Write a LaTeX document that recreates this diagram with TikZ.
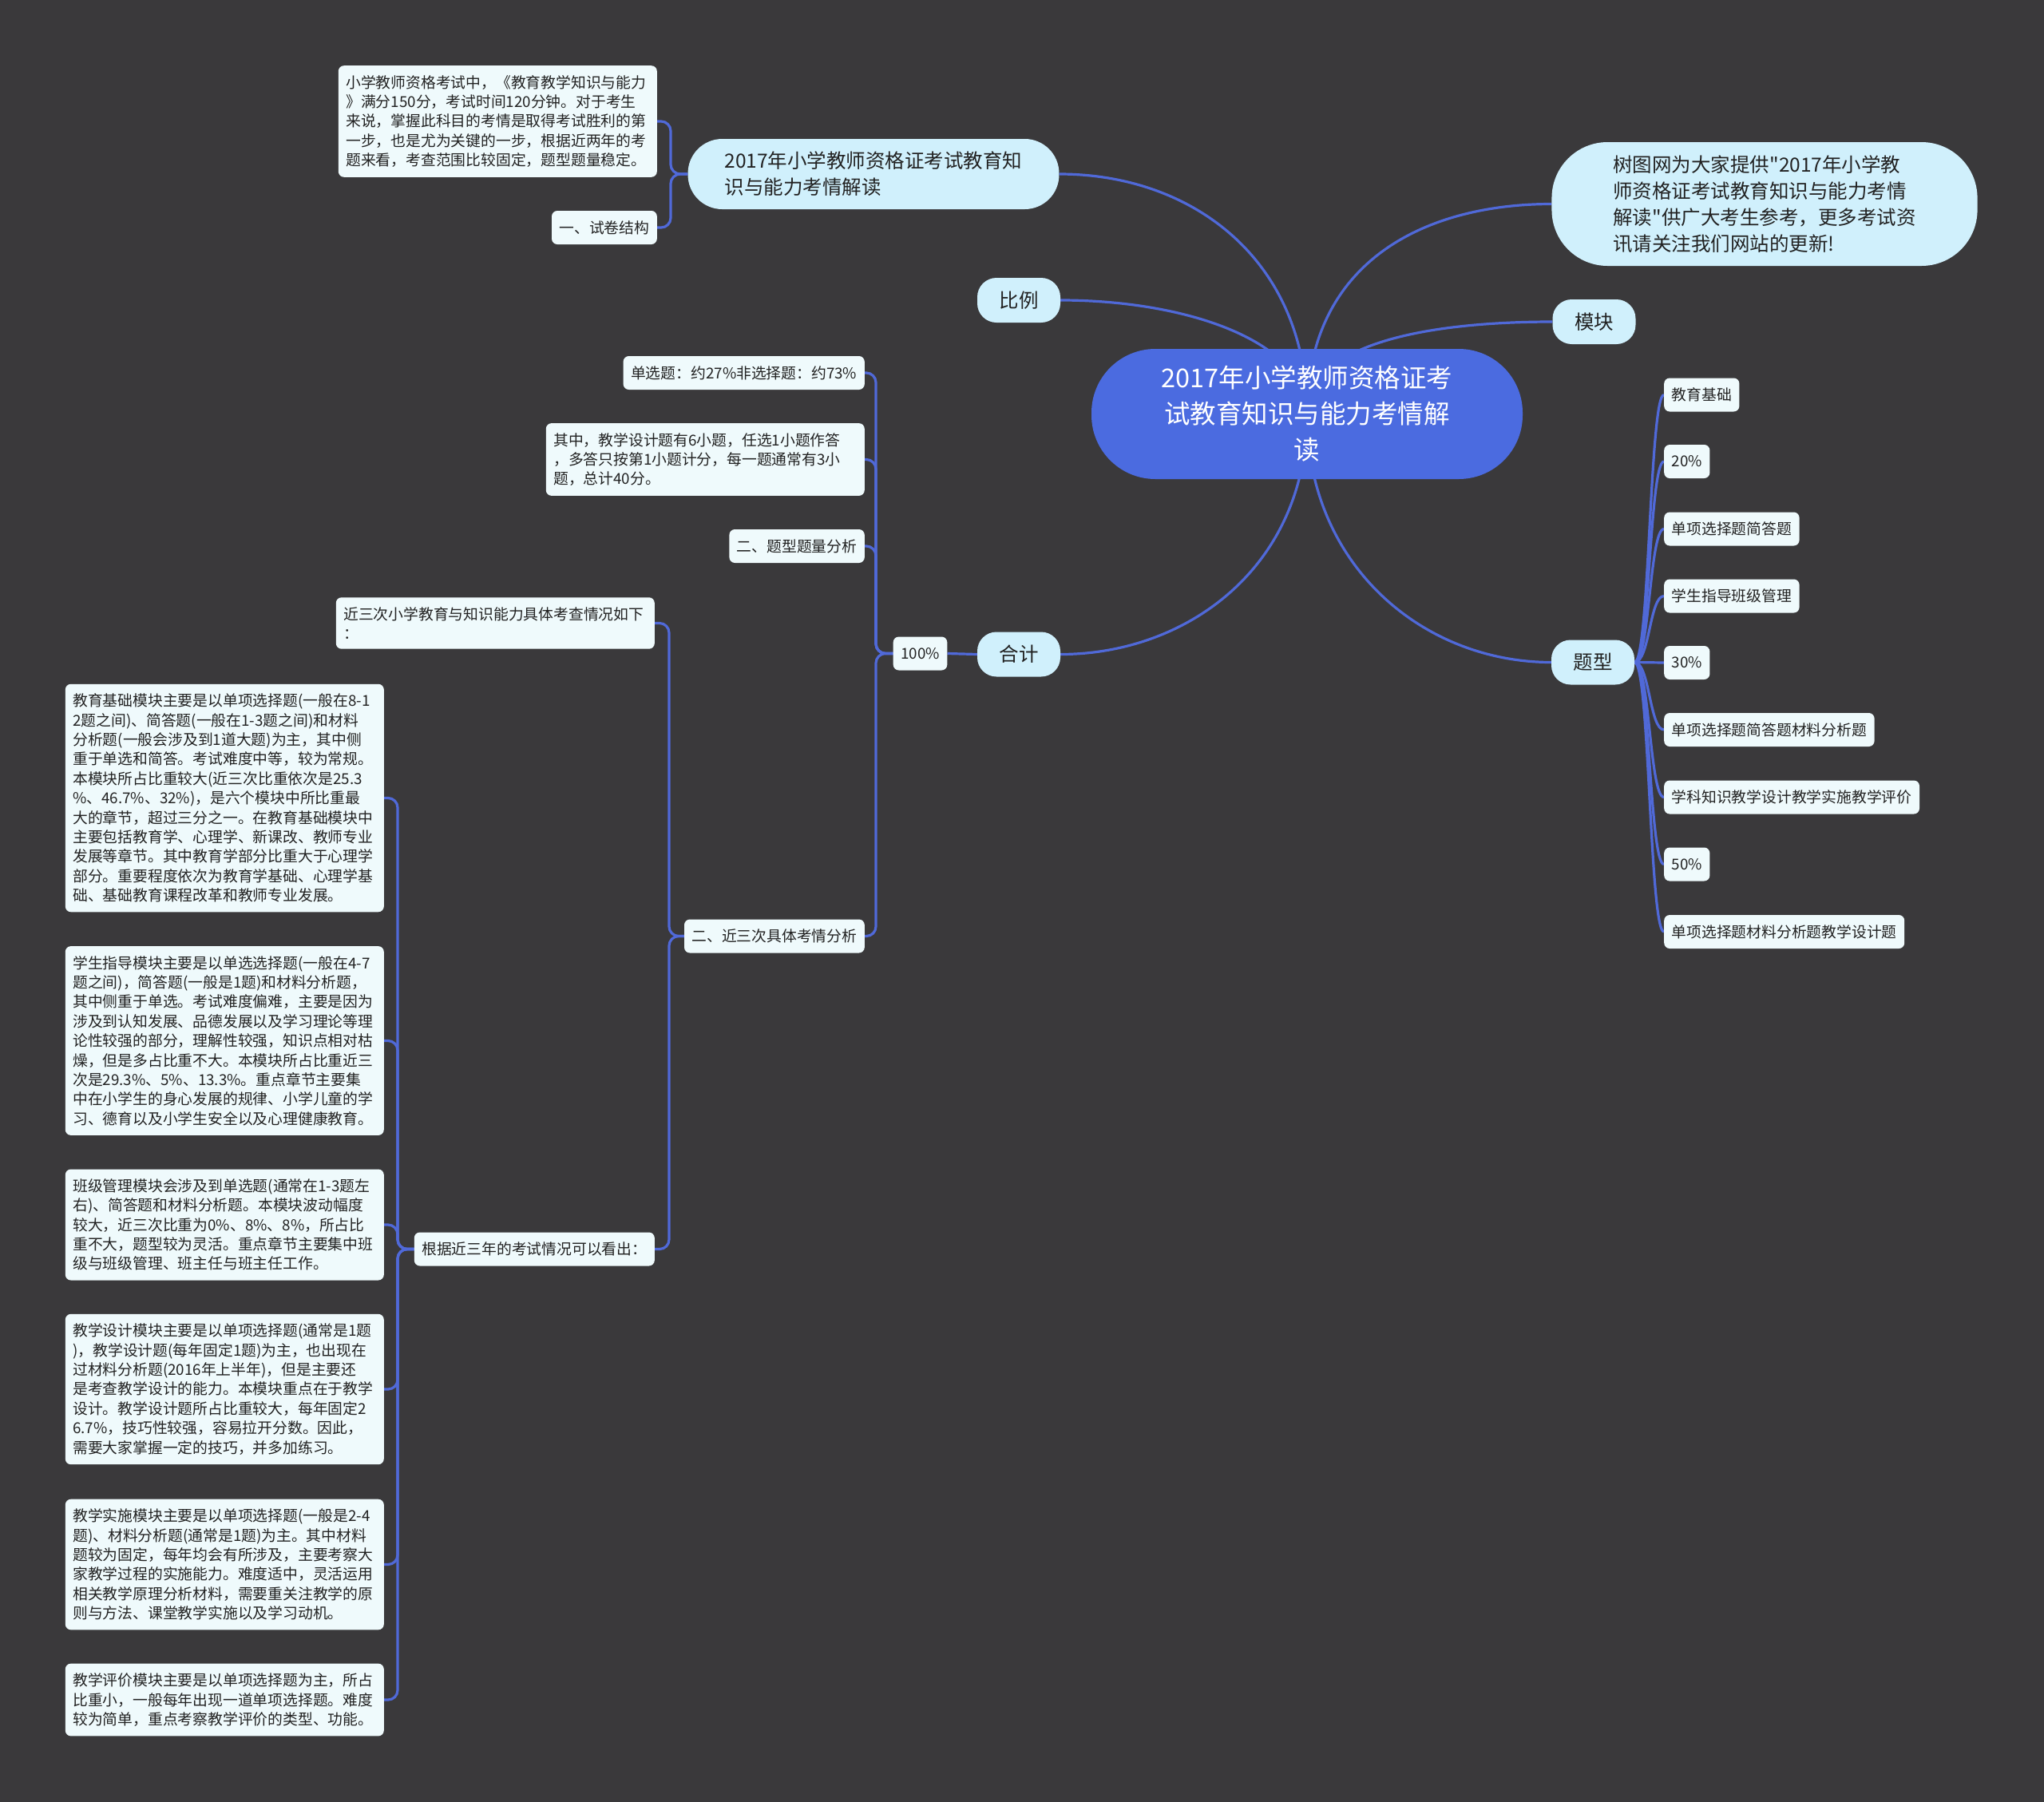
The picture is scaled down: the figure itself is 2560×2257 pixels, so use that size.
\documentclass[tikz,border=0pt]{standalone}
\usepackage{fontspec}
\setmainfont{Noto Sans CJK SC}[Ligatures=TeXOff]
\usetikzlibrary{calc}
\definecolor{bgc}{HTML}{3A393B}
\definecolor{rootc}{HTML}{4B6BE0}
\definecolor{linec}{HTML}{5069D8}
\definecolor{pillc}{HTML}{D0F0FC}
\definecolor{boxc}{HTML}{EFFAFC}
\definecolor{txtc}{HTML}{222222}
\pgfdeclarelayer{bglayer}
\pgfdeclarelayer{linelayer}
\pgfsetlayers{bglayer,linelayer,main}
\tikzset{
  conn/.style={draw=linec, line width=3.2pt},
  brk/.style={conn, rounded corners=12pt},
  tbox/.style={fill=boxc, text=txtc, rounded corners=7pt, inner xsep=9.5pt, inner ysep=12pt, font=\fontsize{18.8pt}{24.4pt}\selectfont, align=left},
  sbox/.style={tbox, inner ysep=0pt, minimum height=42pt},
  wbox/.style={tbox, text width=380pt},
  pill/.style={fill=pillc, text=txtc, font=\fontsize{24.5pt}{33pt}\selectfont},
  small/.style={pill, minimum width=104pt, minimum height=56pt, rounded corners=24pt, inner sep=0pt},
}
\begin{document}
\begin{tikzpicture}[x=1pt,y=-1pt]
\useasboundingbox (0,0) rectangle (2560,2257);
\begin{pgfonlayer}{bglayer}
\fill[bgc] (0,0) rectangle (2560,2257);
\end{pgfonlayer}

% root and main branches
\node[fill=rootc, text=white, rounded corners=80pt, minimum width=540pt, minimum height=163pt, align=center, font=\fontsize{32.5pt}{45pt}\selectfont, inner sep=0pt] (root) at (1637,518.5) {2017年小学教师资格证考\\试教育知识与能力考情解\\读};
\node[pill, rounded corners=43pt, minimum height=88pt, inner xsep=46pt, align=left] (tl) at (1094,218) {2017年小学教师资格证考试教育知\\识与能力考情解读};
\node[pill, rounded corners=70pt, minimum height=155pt, inner xsep=77pt, align=left] (shutu) at (2210,255.5) {树图网为大家提供"2017年小学教\\师资格证考试教育知识与能力考情\\解读"供广大考生参考，更多考试资\\讯请关注我们网站的更新!};
\node[small] (bili) at (1276,376) {比例};
\node[small] (mokuai) at (1996.5,403) {模块};
\node[small] (heji) at (1276,819.5) {合计};
\node[small] (tixing) at (1995,829.5) {题型};

% top-left children
\node[wbox, anchor=east] (intro) at (823,152) {小学教师资格考试中，《教育教学知识与能力\\》满分150分，考试时间120分钟。对于考生\\来说，掌握此科目的考情是取得考试胜利的第\\一步，也是尤为关键的一步，根据近两年的考\\题来看，考查范围比较固定，题型题量稳定。};
\node[sbox, anchor=east] (jiegou) at (823,285) {一、试卷结构};

% 100%
\node[sbox] (pct) at (1152.5,818.5) {100\%};
\node[sbox, anchor=east] (c1) at (1083,467) {单选题：约27\%非选择题：约73\%};
\node[wbox, anchor=east] (c2) at (1083,575.5) {其中，教学设计题有6小题，任选1小题作答\\，多答只按第1小题计分，每一题通常有3小\\题，总计40分。};
\node[sbox, anchor=east] (c3) at (1083,684) {二、题型题量分析};
\node[sbox, anchor=east] (c4) at (1083,1172.5) {二、近三次具体考情分析};

\node[wbox, anchor=east] (j1) at (820,780.5) {近三次小学教育与知识能力具体考查情况如下\\：};
\node[sbox, anchor=east] (j2) at (820,1564.5) {根据近三年的考试情况可以看出：};

\node[wbox, anchor=east] (ba) at (481,999.5) {教育基础模块主要是以单项选择题(一般在8-1\\2题之间)、简答题(一般在1-3题之间)和材料\\分析题(一般会涉及到1道大题)为主，其中侧\\重于单选和简答。考试难度中等，较为常规。\\本模块所占比重较大(近三次比重依次是25.3\\\%、46.7\%、32\%)，是六个模块中所比重最\\大的章节，超过三分之一。在教育基础模块中\\主要包括教育学、心理学、新课改、教师专业\\发展等章节。其中教育学部分比重大于心理学\\部分。重要程度依次为教育学基础、心理学基\\础、基础教育课程改革和教师专业发展。};
\node[wbox, anchor=east] (bb) at (481,1303.5) {学生指导模块主要是以单选选择题(一般在4-7\\题之间)，简答题(一般是1题)和材料分析题，\\其中侧重于单选。考试难度偏难，主要是因为\\涉及到认知发展、品德发展以及学习理论等理\\论性较强的部分，理解性较强，知识点相对枯\\燥，但是多占比重不大。本模块所占比重近三\\次是29.3\%、5\%、13.3\%。重点章节主要集\\中在小学生的身心发展的规律、小学儿童的学\\习、德育以及小学生安全以及心理健康教育。};
\node[wbox, anchor=east] (bc) at (481,1534) {班级管理模块会涉及到单选题(通常在1-3题左\\右)、简答题和材料分析题。本模块波动幅度\\较大，近三次比重为0\%、8\%、8\%，所占比\\重不大，题型较为灵活。重点章节主要集中班\\级与班级管理、班主任与班主任工作。};
\node[wbox, anchor=east] (bd) at (481,1740) {教学设计模块主要是以单项选择题(通常是1题\\)，教学设计题(每年固定1题)为主，也出现在\\过材料分析题(2016年上半年)，但是主要还\\是考查教学设计的能力。本模块重点在于教学\\设计。教学设计题所占比重较大，每年固定2\\6.7\%，技巧性较强，容易拉开分数。因此，\\需要大家掌握一定的技巧，并多加练习。};
\node[wbox, anchor=east] (be) at (481,1959.5) {教学实施模块主要是以单项选择题(一般是2-4\\题)、材料分析题(通常是1题)为主。其中材料\\题较为固定，每年均会有所涉及，主要考察大\\家教学过程的实施能力。难度适中，灵活运用\\相关教学原理分析材料，需要重关注教学的原\\则与方法、课堂教学实施以及学习动机。};
\node[wbox, anchor=east] (bf) at (481,2129) {教学评价模块主要是以单项选择题为主，所占\\比重小，一般每年出现一道单项选择题。难度\\较为简单，重点考察教学评价的类型、功能。};

% right children of 题型
\node[sbox, anchor=west] (r1) at (2084,494.5) {教育基础};
\node[sbox, anchor=west] (r2) at (2084,578) {20\%};
\node[sbox, anchor=west] (r3) at (2084,662.5) {单项选择题简答题};
\node[sbox, anchor=west] (r4) at (2084,746.5) {学生指导班级管理};
\node[sbox, anchor=west] (r5) at (2084,830) {30\%};
\node[sbox, anchor=west] (r6) at (2084,914) {单项选择题简答题材料分析题};
\node[sbox, anchor=west] (r7) at (2084,998.5) {学科知识教学设计教学实施教学评价};
\node[sbox, anchor=west] (r8) at (2084,1082.5) {50\%};
\node[sbox, anchor=west] (r9) at (2084,1167) {单项选择题材料分析题教学设计题};

\coordinate (bxa) at (840,0);
\coordinate (bxb) at (1097,0);
\coordinate (bxc) at (838,0);
\coordinate (bxd) at (498,0);
\coordinate (fx) at (2066,0);

\begin{pgfonlayer}{linelayer}
\draw[conn] (root.center) .. controls ($(root.center)+(0,-190)$) and ($(tl.east)+(170,0)$) .. (tl.east);
\draw[conn] (root.center) .. controls ($(root.center)+(0,-90)$) and ($(bili.east)+(160,0)$) .. (bili.east);
\draw[conn] (root.center) .. controls ($(root.center)+(0,-190)$) and ($(shutu.west)+(-160,0)$) .. (shutu.west);
\draw[conn] (root.center) .. controls ($(root.center)+(0,-90)$) and ($(mokuai.west)+(-150,0)$) .. (mokuai.west);
\draw[conn] (root.center) .. controls ($(root.center)+(0,190)$) and ($(heji.east)+(160,0)$) .. (heji.east);
\draw[conn] (root.center) .. controls ($(root.center)+(0,190)$) and ($(tixing.west)+(-160,0)$) .. (tixing.west);

\foreach \c in {intro,jiegou}
  \draw[brk] (tl.west) -- (tl.west -| bxa) |- (\c.east);
\draw[conn] (heji.west) -- (pct.east);
\foreach \c in {c1,c2,c3,c4}
  \draw[brk] (pct.west) -- (pct.west -| bxb) |- (\c.east);
\foreach \c in {j1,j2}
  \draw[brk] (c4.west) -- (c4.west -| bxc) |- (\c.east);
\foreach \c in {ba,bb,bc,bd,be,bf}
  \draw[brk] (j2.west) -- (j2.west -| bxd) |- (\c.east);
\foreach \c in {r1,r2,r3,r4,r5,r6,r7,r8,r9}
  \draw[conn] (tixing.east) .. controls (tixing.east -| fx) and (fx |- \c.west) .. (\c.west);
\end{pgfonlayer}
\end{tikzpicture}
\end{document}
